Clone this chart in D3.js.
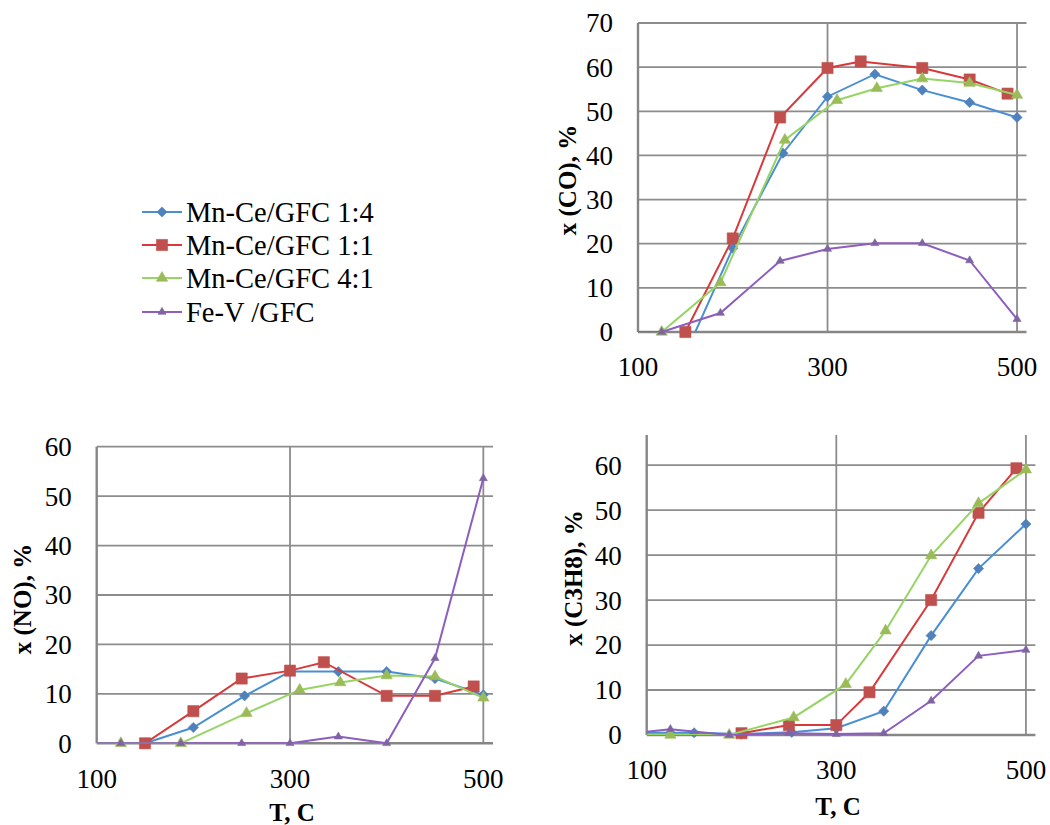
<!DOCTYPE html>
<html>
<head>
<meta charset="utf-8">
<script src="https://cdn.jsdelivr.net/npm/d3@7"></script>
<style>
  body { margin: 0; background: #fff; }
  svg text { font-family: "Liberation Serif", "Times New Roman", "DejaVu Serif", serif; fill: #000; }
</style>
</head>
<body>
<div id="chart"></div>
<script>
// temperatures (T, C) for each catalyst
const tempBlue = [100, 150, 200, 253, 300, 350, 400, 450, 500];
const tempRed = [150, 200, 250, 300, 335, 400, 450, 490];
const tempGreen = [100, 125, 187, 255, 310, 352, 400, 450, 500];
const tempPurple = [100, 125, 187, 250, 300, 350, 400, 450, 500];

// x (CO), %
const coBlue = [0, -5, 19, 40.5, 53.3, 58.4, 54.8, 52, 48.6];
const coRed = [0, 21.2, 48.6, 59.8, 61.3, 59.8, 57.2, 54];
const coGreen = [0, 0, 11.2, 43.5, 52.5, 55.2, 57.4, 56.4, 53.7];
const coPurple = [0, 0, 4.3, 16.1, 18.8, 20.1, 20.1, 16.2, 2.9];

// x (NO), %
const noBlue = [0, 0, 3.2, 9.6, 14.5, 14.5, 14.5, 13.1, 9.8];
const noRed = [0, 6.5, 13.1, 14.7, 16.4, 9.6, 9.6, 11.5];
const noGreen = [0, 0, 0, 6.1, 10.8, 12.3, 13.7, 13.5, 9.2];
const noPurple = [0, 0, 0, 0, 0, 1.35, 0, 17.2, 53.6];

// x (C3H8), %
const c3Blue = [0.5, 0.5, 0.2, 0.6, 1.5, 5.3, 22.1, 37, 46.9];
const c3Red = [null, 0.4, 2.2, 2.2, 9.5, 30, 49.4, 59.3];
const c3Green = [0, 0, 0, 3.9, 11.3, 23.2, 39.9, 51.5, 59];
const c3Purple = [0.7, 1.3, 0, 0.4, 0.2, 0.4, 7.6, 17.6, 18.9];

const seriesNames = ['Mn-Ce/GFC 1:4', 'Mn-Ce/GFC 1:1', 'Mn-Ce/GFC 4:1', 'Fe-V /GFC'];
const xTicks = [100, 300, 500];

const w = 1050;
const h = 825;

// diamond = square turned 45 degrees (excel style, not d3's tall diamond)
const styles = [
  { line: '#4a8fd3', fill: '#4f81bd', symbol: d3.symbolSquare, size: 52, rot: 45 },
  { line: '#d8393b', fill: '#c0504d', symbol: d3.symbolSquare, size: 125, rot: 0 },
  { line: '#96d466', fill: '#9bbb59', symbol: d3.symbolTriangle, size: 55, rot: 0 },
  { line: '#8b5ec0', fill: '#8064a2', symbol: d3.symbolTriangle, size: 28, rot: 0 }
];

const temps = [tempBlue, tempRed, tempGreen, tempPurple];

const panels = [
  { id: 'co', left: 638, top: 23, right: 1026.5, bottom: 332, yMax: 70, yTop: 70,
    title: 'x (CO), %', titleX: 567, titleY: 180, xTitle: null,
    values: [coBlue, coRed, coGreen, coPurple] },
  { id: 'no', left: 96.7, top: 446.7, right: 493, bottom: 743.3, yMax: 60, yTop: 60,
    title: 'x (NO), %', titleX: 22, titleY: 599, xTitle: [292, 812],
    values: [noBlue, noRed, noGreen, noPurple] },
  { id: 'c3', left: 646.7, top: 435, right: 1035.4, bottom: 735, yMax: 66.7, yTop: 60,
    title: 'x (C3H8), %', titleX: 573, titleY: 578, xTitle: [838, 806],
    values: [c3Blue, c3Red, c3Green, c3Purple] }
];

const svg = d3
  .select('#chart')
  .append('svg')
  .attr('width', w)
  .attr('height', h);

panels.forEach(p => {
  const x = d3.scaleLinear().domain([100, 510]).range([p.left, p.right]);
  const y = d3.scaleLinear().domain([0, p.yMax]).range([p.bottom, p.top]);
  const yTicks = d3.range(0, p.yTop + 1, 10);

  const g = svg.append('g').attr('class', p.id);

  // clip lines to the plot area like excel does
  g.append('clipPath')
    .attr('id', 'clip-' + p.id)
    .append('rect')
    .attr('x', p.left)
    .attr('y', p.top)
    .attr('width', p.right - p.left)
    .attr('height', p.bottom - p.top);

  // gridlines
  g.append('g')
    .selectAll('line')
    .data(yTicks.filter(d => d > 0))
    .enter()
    .append('line')
    .attr('x1', p.left)
    .attr('x2', p.right)
    .attr('y1', d => y(d))
    .attr('y2', d => y(d))
    .attr('stroke', '#8c8c8c')
    .attr('stroke-width', 1.8);

  g.append('g')
    .selectAll('line')
    .data(xTicks.filter(d => d > 100))
    .enter()
    .append('line')
    .attr('x1', d => x(d))
    .attr('x2', d => x(d))
    .attr('y1', p.top)
    .attr('y2', p.bottom)
    .attr('stroke', '#8c8c8c')
    .attr('stroke-width', 1.8);

  // axis lines
  g.append('line')
    .attr('x1', p.left).attr('x2', p.left)
    .attr('y1', p.top).attr('y2', p.bottom)
    .attr('stroke', '#868686').attr('stroke-width', 2.4);
  g.append('line')
    .attr('x1', p.left).attr('x2', p.right)
    .attr('y1', p.bottom).attr('y2', p.bottom)
    .attr('stroke', '#868686').attr('stroke-width', 2.4);

  // tick labels
  g.append('g')
    .selectAll('text')
    .data(yTicks)
    .enter()
    .append('text')
    .attr('x', p.left - 25)
    .attr('y', d => y(d))
    .attr('dy', '0.35em')
    .attr('text-anchor', 'end')
    .style('font-size', '27px')
    .text(d => d);

  g.append('g')
    .selectAll('text')
    .data(xTicks)
    .enter()
    .append('text')
    .attr('x', d => x(d))
    .attr('y', p.bottom + 35)
    .attr('dy', '0.35em')
    .attr('text-anchor', 'middle')
    .style('font-size', '27px')
    .text(d => d);

  // axis titles
  g.append('text')
    .attr('transform', `translate(${p.titleX},${p.titleY}) rotate(-90)`)
    .attr('dy', '0.35em')
    .attr('text-anchor', 'middle')
    .style('font-size', '25px')
    .style('font-weight', 'bold')
    .text(p.title);

  if (p.xTitle) {
    g.append('text')
      .attr('x', p.xTitle[0])
      .attr('y', p.xTitle[1])
      .attr('dy', '0.35em')
      .attr('text-anchor', 'middle')
      .style('font-size', '25px')
      .style('font-weight', 'bold')
      .text('T, C');
  }

  // series: line then markers, in excel order
  p.values.forEach((vals, i) => {
    const pts = temps[i].map((t, j) => ({ t: t, v: vals[j] })).filter(d => d.v !== null);
    const line = d3.line().x(d => x(d.t)).y(d => y(d.v));

    g.append('path')
      .datum(pts)
      .attr('clip-path', `url(#clip-${p.id})`)
      .attr('d', line)
      .attr('fill', 'none')
      .attr('stroke', styles[i].line)
      .attr('stroke-width', 2);

    // no markers on the axis edge or below zero
    g.append('g')
      .selectAll('path')
      .data(pts.filter(d => d.v >= 0 && d.t > 100))
      .enter()
      .append('path')
      .attr('transform', d => `translate(${x(d.t)},${y(d.v)}) rotate(${styles[i].rot})`)
      .attr('d', d3.symbol().type(styles[i].symbol).size(styles[i].size))
      .attr('fill', styles[i].fill)
      .attr('stroke', styles[i].fill)
      .attr('stroke-width', 0.6);
  });
});

// legend
const legend = svg
  .append('g')
  .attr('id', 'legend')
  .attr('transform', 'translate(142, 0)');

const rows = [212, 245, 278, 312];

seriesNames.forEach((name, i) => {
  const row = legend.append('g').attr('transform', `translate(0, ${rows[i]})`);
  row.append('line')
    .attr('x1', 0).attr('x2', 40)
    .attr('y1', 0).attr('y2', 0)
    .attr('stroke', styles[i].line)
    .attr('stroke-width', 2);
  row.append('path')
    .attr('transform', `translate(20, 0) rotate(${styles[i].rot})`)
    .attr('d', d3.symbol().type(styles[i].symbol).size(styles[i].size))
    .attr('fill', styles[i].fill)
    .attr('stroke', styles[i].fill)
    .attr('stroke-width', 0.6);
  row.append('text')
    .attr('x', 44)
    .attr('y', 0)
    .attr('dy', '0.35em')
    .style('font-size', '28.5px')
    .text(name);
});
</script>
</body>
</html>
